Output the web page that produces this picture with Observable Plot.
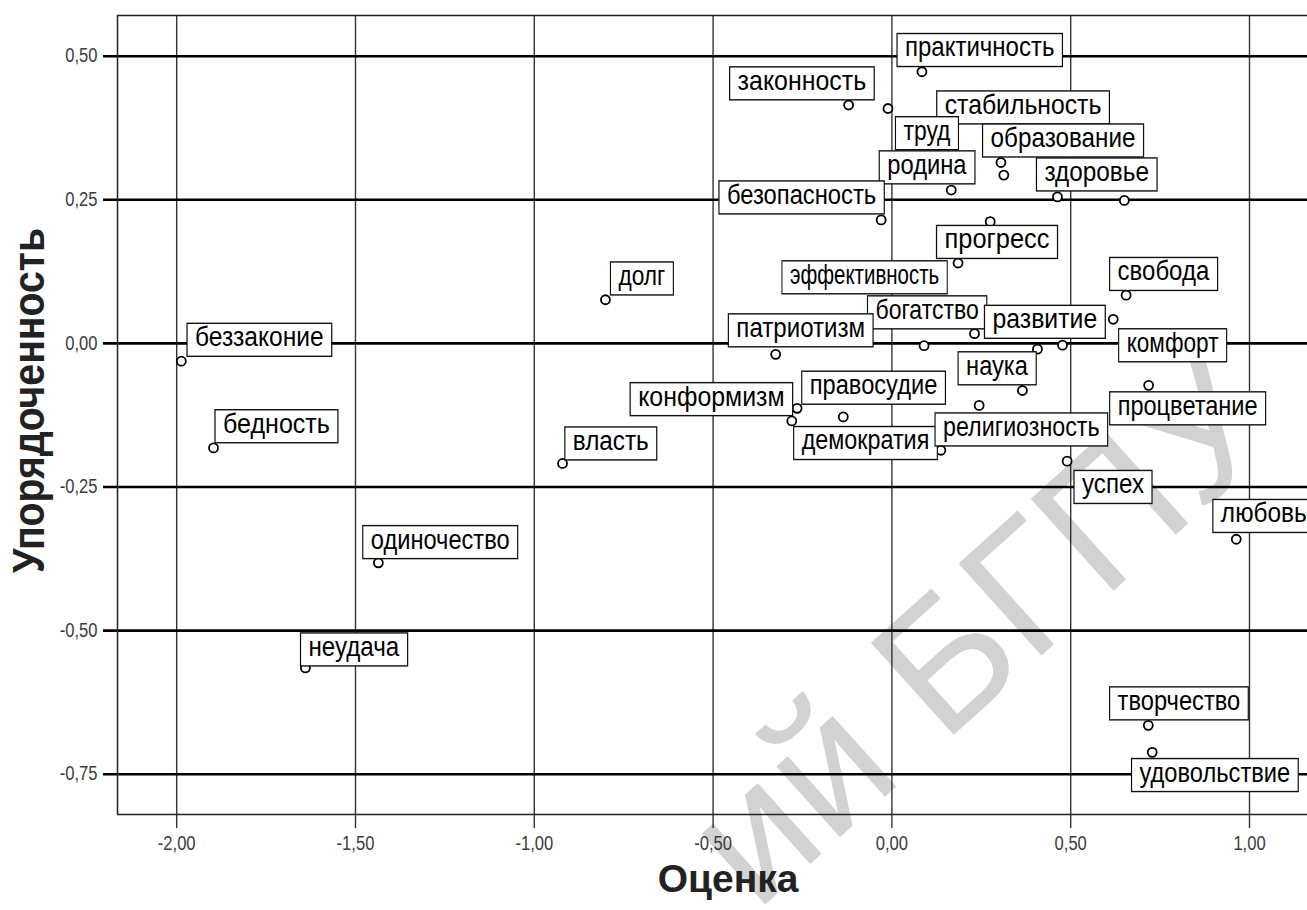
<!DOCTYPE html>
<html><head><meta charset="utf-8">
<script src="https://cdn.jsdelivr.net/npm/d3@7"></script>
<script src="https://cdn.jsdelivr.net/npm/@observablehq/plot@0.6"></script>
<style>html,body{margin:0;padding:0;background:#fff;overflow:hidden}</style>
</head><body><div id="chart"></div>
<script>
// ---- data ----
const words = ["практичность","законность","труд","образование","стабильность","родина","здоровье","","безопасность","прогресс","эффективность","свобода","долг","комфорт","богатство","","","развитие","патриотизм","наука","процветание","правосудие","конформизм","демократия","религиозность","","успех","беззаконие","бедность","власть","одиночество","неудача","любовь","творчество","удовольствие"];
const ocenka = [0.084,-0.121,-0.011,0.305,0.313,0.166,0.463,0.650,-0.030,0.275,0.185,0.655,-0.801,0.619,0.231,0.090,0.407,0.477,-0.325,0.365,0.718,-0.265,-0.280,-0.136,0.244,0.137,0.490,-1.987,-1.897,-0.921,-1.436,-1.640,0.963,0.717,0.728];
const uporyadochennost = [0.473,0.415,0.409,0.315,0.293,0.267,0.255,0.249,0.215,0.212,0.140,0.084,0.076,0.042,0.017,-0.004,-0.010,-0.003,-0.019,-0.082,-0.073,-0.113,-0.135,-0.128,-0.108,-0.186,-0.205,-0.031,-0.182,-0.209,-0.382,-0.565,-0.341,-0.665,-0.712];
const xTicks = [-2, -1.5, -1, -0.5, 0, 0.5, 1];
const yTicks = [-0.75, -0.5, -0.25, 0, 0.25, 0.5];
const xTitle = "Оценка";
const yTitle = "Упорядоченность";
const watermark = "ий БГПУ";

// ---- layout: label box [dx of text start, dy of box centre, box width] in px; drawing order ----
const labelLayout = {
  "законность": [-111, -21.7, 144.6], "практичность": [-16.9, -21.7, 165.4], "стабильность": [-59.1, -67.7, 172.7],
  "труд": [15.5, 24.7, 63], "образование": [-10.4, -22, 161], "здоровье": [-13, -22.5, 120.6], "родина": [-64, -22.7, 95.7],
  "безопасность": [-154.2, -22.5, 165.3], "прогресс": [-45.7, 20.3, 121], "эффективность": [-168.1, 14.3, 165.3],
  "свобода": [-8.5, -21.2, 108], "долг": [13, -21.3, 62.9], "богатство": [-99, -21.3, 119.3], "патриотизм": [-39.3, -24, 144.7],
  "развитие": [-70, -23.3, 120.8], "комфорт": [13.4, 26, 108], "наука": [-56.3, -22.2, 78.1], "процветание": [-31, 23, 156],
  "правосудие": [12.6, -20.6, 143.7], "конформизм": [-153.6, -21.8, 162.5], "демократия": [-41.6, 26.1, 143.7],
  "религиозность": [-36.1, 24, 172.6], "успех": [14.9, 25.8, 78], "беззаконие": [13.7, -21.4, 144.7], "бедность": [9.5, -21.7, 122.9],
  "власть": [10.3, -20, 91.9], "одиночество": [-7.6, -20.7, 154.9], "неудача": [3.1, -18.5, 107.1], "любовь": [-15.4, -23.3, 102],
  "творчество": [-30.7, -22, 138.7], "удовольствие": [-12.7, 22.7, 166.7]
};
const xDomain = [-2.1655, 1.1622];
const yDomain = [-0.8202, 0.5709];
const LABEL_FS = 28, PAD = 8, BOXH = 33, VSHIFT = 2.5;
const TICK_FS = 19.5, TICK_SX = 0.85;
const YT_SX = 0.98, YT_SY = 1.1;

const points = words.map((w, i) => ({word: w, x: ocenka[i], y: uporyadochennost[i]}));
const byWord = new Map(points.filter(d => d.word).map(d => [d.word, d]));
const fmt = v => v.toFixed(2).replace(".", ",");
const FONT = "'Liberation Sans', Arial, sans-serif";

const labelMarks = Object.keys(labelLayout).map(w => {
  const [dx, dy] = labelLayout[w];
  return Plot.text([byWord.get(w)], {x: "x", y: "y", text: "word", dx, dy: dy - VSHIFT,
    textAnchor: "start", fontSize: LABEL_FS, fill: "#000"});
});

const plot = Plot.plot({
  width: 1307, height: 910,
  marginLeft: 117, marginRight: 0, marginTop: 15, marginBottom: 96,
  style: {background: "white", fontFamily: FONT, overflow: "visible"},
  x: {domain: xDomain, axis: null},
  y: {domain: yDomain, axis: null},
  marks: [
    Plot.ruleX(xTicks, {stroke: "#333", strokeWidth: 1.4, insetBottom: -14}),
    Plot.ruleY(yTicks, {stroke: "#000", strokeWidth: 2.6, insetLeft: -14}),
    Plot.ruleX([xDomain[0]], {stroke: "#222", strokeWidth: 1.5}),
    Plot.ruleY(yDomain, {stroke: "#222", strokeWidth: 1.5}),
    Plot.dot(points, {x: "x", y: "y", r: 4.5, fill: "white", stroke: "#000", strokeWidth: 1.8}),
    Plot.text(xTicks, {x: d => d, text: fmt, frameAnchor: "bottom", textAnchor: "middle", dy: 35.3, fontSize: TICK_FS, fill: "#3c3c3c"}),
    Plot.text(yTicks, {y: d => d, text: fmt, frameAnchor: "left", textAnchor: "end", dx: -20, fontSize: TICK_FS, fill: "#3c3c3c"}),
    Plot.text([xTitle], {frameAnchor: "bottom", textAnchor: "middle", dx: 15.5, dy: 77.5, fontSize: 39, fontWeight: "bold", fill: "#222"}),
    Plot.text([yTitle], {frameAnchor: "left", textAnchor: "middle", dx: -87.8, dy: -14.5, rotate: -90, fontSize: 40, fontWeight: "bold", fill: "#222"}),
    ...labelMarks
  ]
});
document.getElementById("chart").appendChild(plot);

// ---- post-processing: condensed text and label boxes ----
const ns = "http://www.w3.org/2000/svg";
d3.select(plot).selectAll("text").each(function() {
  const s = this.textContent;
  const tr = this.getAttribute("transform") || "";
  if (/^-?\d,\d\d$/.test(s)) {
    this.setAttribute("transform", tr + ` scale(${TICK_SX},1)`);
  } else if (s === yTitle) {
    this.setAttribute("transform", tr + ` scale(${YT_SX},${YT_SY})`);
  } else if (labelLayout[s]) {
    const w = labelLayout[s][2];
    const bb0 = this.getBBox();
    const sx = (w - 2 * PAD) / bb0.width;
    const t2 = tr + ` scale(${sx},1)`;
    this.setAttribute("transform", t2);
    const r = document.createElementNS(ns, "rect");
    r.setAttribute("transform", t2);
    r.setAttribute("x", bb0.x - PAD / sx);
    r.setAttribute("width", w / sx);
    r.setAttribute("y", -BOXH / 2 + VSHIFT);
    r.setAttribute("height", BOXH);
    r.setAttribute("fill", "white");
    r.setAttribute("stroke", "#111");
    r.setAttribute("stroke-width", 1.4);
    this.parentNode.insertBefore(r, this);
  }
});
// watermark (behind everything)
const wm = document.createElementNS(ns, "text");
wm.textContent = watermark;
wm.setAttribute("transform", "translate(1020,675) rotate(-42)");
wm.setAttribute("text-anchor", "middle");
wm.setAttribute("font-size", 180);
wm.setAttribute("font-family", FONT);
wm.setAttribute("fill", "#d2d2d2");
const first = plot.querySelector("style");
plot.insertBefore(wm, first ? first.nextSibling : plot.firstChild);
</script>
</body></html>
